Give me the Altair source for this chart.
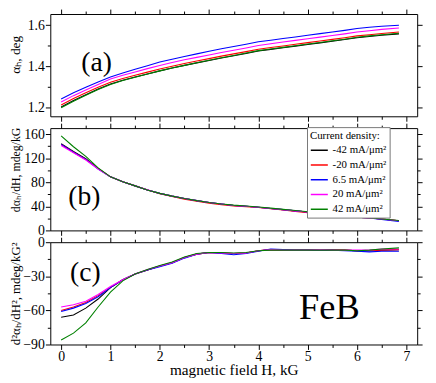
import altair as alt
import pandas as pd

FONT = "Liberation Serif"

# ---------------- data ----------------
H = [0, 0.25, 0.5, 0.75, 1.0, 1.25, 1.5, 1.75, 2.0, 2.25, 2.5, 2.75, 3.0, 3.25,
     3.5, 3.75, 4.0, 4.25, 4.5, 4.75, 5.0, 5.25, 5.5, 5.75, 6.0, 6.25, 6.5, 6.85]

SERIES = ["-42 mA/μm²", "-20 mA/μm²", "6.5 mA/μm²", "20 mA/μm²", "42 mA/μm²"]
COLORS = ["#000000", "#ff0000", "#0000ff", "#ff00ff", "#008000"]

# panel (a): alpha_H, deg
A_M42 = [1.200, 1.232, 1.260, 1.288, 1.313, 1.331, 1.347, 1.362, 1.377, 1.391, 1.404, 1.416, 1.428, 1.440,
         1.451, 1.462, 1.474, 1.482, 1.490, 1.498, 1.506, 1.514, 1.522, 1.530, 1.539, 1.545, 1.551, 1.558]
A_M20 = [1.210, 1.242, 1.270, 1.297, 1.322, 1.340, 1.356, 1.371, 1.386, 1.400, 1.413, 1.425, 1.437, 1.449,
         1.460, 1.471, 1.483, 1.491, 1.499, 1.507, 1.515, 1.523, 1.531, 1.539, 1.548, 1.554, 1.560, 1.567]
A_P65 = [1.240, 1.270, 1.297, 1.323, 1.347, 1.367, 1.385, 1.402, 1.420, 1.434, 1.447, 1.460, 1.473, 1.485,
         1.496, 1.507, 1.519, 1.527, 1.535, 1.543, 1.551, 1.559, 1.567, 1.575, 1.584, 1.590, 1.595, 1.600]
A_P20 = [1.225, 1.256, 1.284, 1.311, 1.337, 1.356, 1.372, 1.388, 1.403, 1.418, 1.431, 1.443, 1.455, 1.467,
         1.478, 1.489, 1.501, 1.510, 1.518, 1.526, 1.534, 1.542, 1.550, 1.558, 1.567, 1.573, 1.580, 1.587]
A_P42 = [1.197, 1.229, 1.258, 1.286, 1.311, 1.330, 1.346, 1.362, 1.377, 1.391, 1.404, 1.417, 1.429, 1.441,
         1.452, 1.464, 1.476, 1.484, 1.492, 1.500, 1.508, 1.516, 1.524, 1.532, 1.541, 1.548, 1.554, 1.561]

# panel (b): d alpha_H / dH, mdeg/kG
B_M42 = [144, 131, 119, 103, 89, 81, 74, 67, 61.5, 57, 53, 49.5, 46.5, 44,
         41.5, 40, 38.5, 36.5, 34.5, 32.5, 30.5, 28.5, 27, 25, 22, 20.5, 19, 16]
B_M20 = [143, 130, 118, 103, 89, 81, 74, 67, 61, 56.5, 52, 48.5, 45, 42.5,
         40.5, 39.5, 38, 36, 34, 31.5, 29.5, 28, 26.5, 25, 22, 20.5, 19, 16]
B_P65 = [143, 130, 118, 102, 89, 81, 74, 67, 61.5, 57, 53, 49.5, 46.5, 44,
         41.5, 40, 38.5, 36.5, 34.5, 32.5, 30.5, 28.5, 27, 25, 22, 20.5, 18, 15]
B_P20 = [141, 129, 117, 102, 89, 81, 74, 67.5, 61.5, 57, 53, 49.5, 46.5, 44,
         41.5, 40, 38.5, 36.5, 34.5, 32.5, 30.5, 28.5, 27, 25, 22, 20.5, 19, 16]
B_P42 = [157, 139, 123, 104, 89, 81, 74, 67, 61.5, 57, 53, 49.5, 46.5, 44,
         42, 40.5, 39, 37, 35, 33, 31, 29, 27, 25, 22.5, 21, 19, 16.5]

# panel (c): d2 alpha_H / dH2, mdeg/kG2
C_M42 = [-66, -64, -58, -50, -40, -33, -28, -24.5, -21, -18, -13.5, -10.5, -9, -9.5,
         -10, -9.5, -7.5, -6.5, -7, -7, -7, -7, -7, -7, -7.5, -7.5, -7, -6.5]
C_M20 = [-60, -57, -53, -47, -40, -33, -28, -24.5, -21, -18, -13.5, -10.5, -9, -9.5,
         -10, -9.5, -7.5, -6.5, -7, -7, -7, -6.5, -6.5, -7, -7.5, -7.5, -7, -6.5]
C_P65 = [-61, -58, -54, -48, -40, -33, -28, -24.5, -21.5, -18.5, -14, -10.5, -9, -10,
         -11, -10, -8, -6, -6.5, -7, -7, -7, -7, -7.5, -8, -8.5, -8, -8]
C_P20 = [-57, -55, -52, -46, -39, -33, -28, -24, -21, -18, -13.5, -10.5, -9, -9.5,
         -10, -9.5, -7.5, -6.5, -7, -7, -7, -6.5, -7, -7, -7, -7, -6, -6]
C_P42 = [-86, -80, -71, -57, -44, -34, -28, -24, -20.5, -17.5, -13, -10, -9, -9,
         -9.5, -9, -7.5, -7, -7, -7, -7, -7, -7, -7, -7.5, -7, -6, -5]

X_MAJOR = [0, 1, 2, 3, 4, 5, 6, 7]
X_MINOR = [0.5, 1.5, 2.5, 3.5, 4.5, 5.5, 6.5]
A_MAJOR, A_MINOR = [1.2, 1.4, 1.6], [1.3, 1.5]
B_MAJOR, B_MINOR = [0, 40, 80, 120, 160], [20, 60, 100, 140]
C_MAJOR, C_MINOR = [-90, -60, -30, 0], [-75, -45, -15]

PANEL_TAGS = ["(a)", "(b)", "(c)"]
TAG_H = [0.72, 0.47, 0.49]
TAG_V = [1.415, 54.8, -26.8]
SAMPLE = "FeB"
SAMPLE_H, SAMPLE_V = 5.44, -58.0


def long_df(cols):
    rows = []
    for name, vals in zip(SERIES, cols):
        for h, v in zip(H, vals):
            rows.append({"H": h, "v": v, "series": name})
    return pd.DataFrame(rows)


DF_A = long_df([A_M42, A_M20, A_P65, A_P20, A_P42])
DF_B = long_df([B_M42, B_M20, B_P65, B_P20, B_P42])
DF_C = long_df([C_M42, C_M20, C_P65, C_P20, C_P42])

XS = alt.Scale(domain=[-0.22, 7.22], nice=False, zero=False)


def ax(orient, values, size, labels=False, title=None, **kw):
    return alt.Axis(orient=orient, values=values, tickSize=size, labels=labels,
                    title=title, domain=False, grid=False, ticks=True,
                    tickColor="black", tickWidth=1, labelFont=FONT,
                    labelFontSize=14, labelColor="black", **kw)


def panel(df, ydom, ymaj, ymin, ytitle, ytitle_size, ytitle_y, xlabels, legend, idx, extra=None):
    ys = alt.Scale(domain=ydom, nice=False, zero=False)
    color = alt.Color("series:N", scale=alt.Scale(domain=SERIES, range=COLORS),
                      legend=legend, sort=SERIES)
    xkw = {}
    if xlabels:
        xkw = dict(titleFont=FONT, titleFontSize=15.5, titleFontWeight="normal",
                   titleColor="black", labelPadding=0, titlePadding=-1)
    ykw = dict(titleFont=FONT, titleFontSize=ytitle_size, titleFontWeight="normal",
               titleColor="black", titleX=-35, titleBaseline="middle", labelPadding=1)
    if ytitle_y is not None:
        ykw["titleY"] = ytitle_y
    main = alt.Chart(df).mark_line(strokeWidth=1.1).encode(
        x=alt.X("H:Q", scale=XS,
                axis=ax("bottom", X_MAJOR, 5, labels=xlabels,
                        title="magnetic field H, kG" if xlabels else None, **xkw)),
        y=alt.Y("v:Q", scale=ys,
                axis=ax("left", ymaj, 5, labels=True, title=ytitle, **ykw)),
        color=color,
    )
    l2 = alt.Chart(df).mark_line(opacity=0).encode(
        x=alt.X("H:Q", scale=XS, axis=ax("bottom", X_MINOR, 3)),
        y=alt.Y("v:Q", scale=ys, axis=ax("left", ymin, 3)),
    )
    l3 = alt.Chart(df).mark_line(opacity=0).encode(
        x=alt.X("H:Q", scale=XS, axis=ax("top", X_MAJOR, 5)),
        y=alt.Y("v:Q", scale=ys, axis=ax("right", ymaj, 5)),
    )
    l4 = alt.Chart(df).mark_line(opacity=0).encode(
        x=alt.X("H:Q", scale=XS, axis=ax("top", X_MINOR, 3)),
        y=alt.Y("v:Q", scale=ys, axis=ax("right", ymin, 3)),
    )
    tag_df = pd.DataFrame({"H": [TAG_H[idx]], "v": [TAG_V[idx]], "t": [PANEL_TAGS[idx]]})
    tag = alt.Chart(tag_df).mark_text(font=FONT, fontSize=28, color="black").encode(
        x=alt.X("H:Q", scale=XS, axis=None),
        y=alt.Y("v:Q", scale=ys, axis=None),
        text="t:N",
    )
    layers = [main, l2, l3, l4, tag]
    if extra is not None:
        ex = alt.Chart(extra).mark_text(font=FONT, fontSize=37, color="black").encode(
            x=alt.X("H:Q", scale=XS, axis=None),
            y=alt.Y("v:Q", scale=ys, axis=None),
            text="t:N",
        )
        layers.append(ex)
    return alt.layer(*layers).resolve_axis(x="independent", y="independent").properties(
        width=373, height=104)


legend_b = alt.Legend(
    title="Current density:", orient="none", legendX=261, legendY=-1,
    direction="vertical", symbolType="stroke", symbolSize=300, symbolStrokeWidth=1.5,
    labelFont=FONT, labelFontSize=11, labelColor="black", titleFont=FONT,
    titleFontSize=11, titleFontWeight="normal", titleColor="black",
    strokeColor="#777777", fillColor="white", padding=3, rowPadding=0,
    titlePadding=0, labelOffset=4,
)

pa = panel(DF_A, [1.155, 1.655], A_MAJOR, A_MINOR, "αₕ, deg", 13.5, 41, False, None, 0)
pb = panel(DF_B, [0, 170], B_MAJOR, B_MINOR, "dαₕ/dH, mdeg/kG", 12, 42, False, legend_b, 1)
sample_df = pd.DataFrame({"H": [SAMPLE_H], "v": [SAMPLE_V], "t": [SAMPLE]})
pc = panel(DF_C, [-90, 0], C_MAJOR, C_MINOR, "d²αₕ/dH², mdeg/kG²", 13, None, True, None, 2,
           extra=sample_df)

chart = alt.vconcat(pa, pb, pc, spacing=12, bounds="flush").resolve_scale(
    y="independent", color="independent"
).resolve_legend(color="independent").properties(
    padding={"left": 0, "top": -3, "right": 5, "bottom": 0}
).configure(font=FONT).configure_view(stroke="black", strokeWidth=1).configure_legend(
    titleFontWeight="normal"
)

chart.save("out.html", embed_options={"renderer": "svg", "actions": False})
